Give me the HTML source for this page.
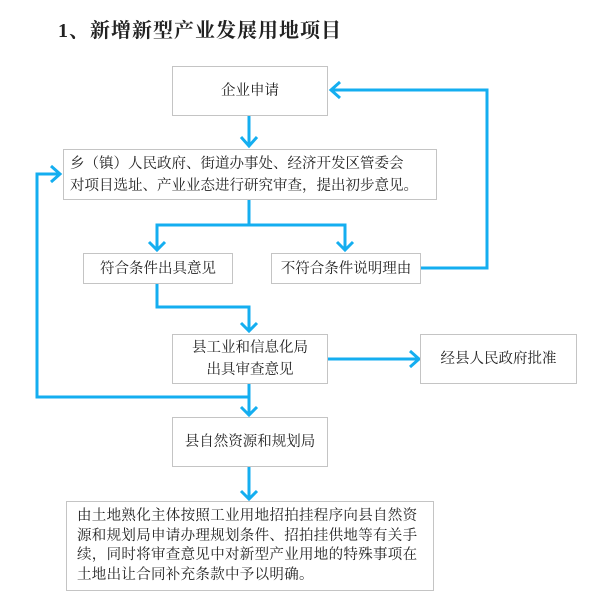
<!DOCTYPE html>
<html><head><meta charset="utf-8"><style>
body{margin:0;background:#fff;width:606px;height:603px;position:relative;overflow:hidden;font-family:"Liberation Serif","Noto Serif CJK SC",serif;color:#222}
.b{position:absolute;border:1.5px solid #c4c4c4;box-sizing:border-box;background:#fff;font-size:14.5px;display:flex;align-items:center;justify-content:center;text-align:center;line-height:22px}
.t{position:absolute;left:58px;top:14px;font-size:20px;font-weight:bold;letter-spacing:1px}
svg{position:absolute;left:0;top:0}
</style></head><body>
<div class="t">1、新增新型产业发展用地项目</div>
<svg width="606" height="603" fill="none" stroke="#14aef0" stroke-width="3">
<path d="M249 115V146M241 137L249 146L257 137"/>
<path d="M249 199V225M157 250V225H345V250M149 242L157 250L165 242M337 242L345 250L353 242"/>
<path d="M420 268H487V90H332M340 82L331 90L340 98"/>
<path d="M157 283V307H249V331M241 323L249 331L257 323"/>
<path d="M327 359H418M410 351L419 359L410 367"/>
<path d="M249 383V415M241 407L249 415L257 407"/>
<path d="M249 397H37V174H59M51 166L60 174L51 182"/>
<path d="M249 466V499M241 491L249 499L257 491"/>
</svg>
<div class="b" style="left:172px;top:66px;width:156px;height:50px">企业申请</div>
<div class="b" style="left:63px;top:149px;width:374px;height:51px;justify-content:flex-start;text-align:left;padding-left:6px">乡（镇）人民政府、街道办事处、经济开发区管委会<br>对项目选址、产业业态进行研究审查，提出初步意见。</div>
<div class="b" style="left:83px;top:253px;width:150px;height:31px">符合条件出具意见</div>
<div class="b" style="left:271px;top:253px;width:150px;height:31px">不符合条件说明理由</div>
<div class="b" style="left:172px;top:334px;width:156px;height:50px">县工业和信息化局<br>出具审查意见</div>
<div class="b" style="left:420px;top:334px;width:157px;height:50px">经县人民政府批准</div>
<div class="b" style="left:172px;top:417px;width:156px;height:50px">县自然资源和规划局</div>
<div class="b" style="left:66px;top:501px;width:368px;height:90px;justify-content:flex-start;text-align:left;padding-left:10px;line-height:19.5px;letter-spacing:0.3px">由土地熟化主体按照工业用地招拍挂程序向县自然资<br>源和规划局申请办理规划条件、招拍挂供地等有关手<br>续，同时将审查意见中对新型产业用地的特殊事项在<br>土地出让合同补充条款中予以明确。</div>
</body></html>
